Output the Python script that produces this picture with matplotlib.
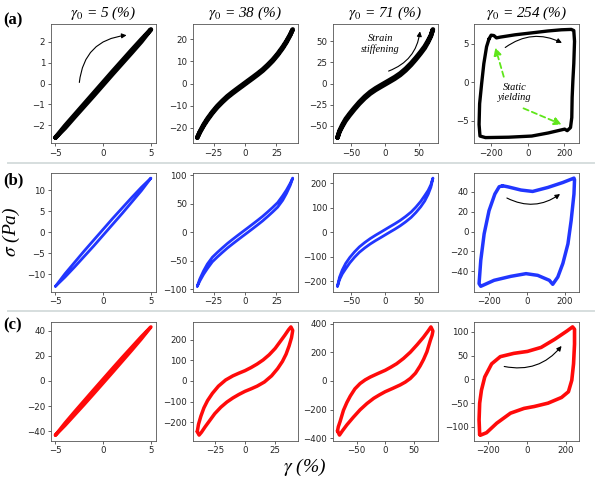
import matplotlib
matplotlib.use("Agg")
import matplotlib.pyplot as plt

# ---------------- data ----------------
titles = ["5", "38", "71", "254"]
row_labels = ["(a)", "(b)", "(c)"]

# Row (a) - black
a1_x = [-5, -4, -3, -2, -1, 0, 1, 2, 3, 4, 5, 4, 3, 2, 1, 0, -1, -2, -3, -4, -5]
a1_y = [-2.58, -2.02, -1.50, -0.98, -0.46, 0.06, 0.58, 1.09, 1.60, 2.10, 2.58,
        2.00, 1.48, 0.97, 0.46, -0.06, -0.58, -1.09, -1.60, -2.12, -2.58]

a2_x = [-38, -36, -33, -30, -26, -22, -18, -14, -10, -6, -2, 2, 6, 10, 14, 18, 22, 26, 30, 33, 36, 38,
        36, 33, 30, 26, 22, 18, 14, 10, 6, 2, -2, -6, -10, -14, -18, -22, -26, -30, -33, -36, -38]
a2_y = [-24.4, -21.8, -18.6, -15.9, -12.8, -10.1, -7.8, -5.7, -3.9, -2.2, -0.54,
        1.14, 2.8, 4.5, 6.3, 8.4, 10.7, 13.4, 16.5, 19.1, 22.1, 24.4,
        21.8, 18.6, 15.9, 12.8, 10.1, 7.8, 5.7, 3.9, 2.2, 0.54,
        -1.14, -2.8, -4.5, -6.3, -8.4, -10.7, -13.4, -16.5, -19.1, -22.1, -24.4]

a3_x = [-70, -67, -63, -58, -52, -45, -38, -30, -22, -14, -6, 6, 14, 22, 30, 38, 45, 52, 58, 63, 67, 70,
        67, 63, 58, 52, 45, 38, 30, 22, 14, 6, -6, -14, -22, -30, -38, -45, -52, -58, -63, -67, -70]
a3_y = [-64, -55.9, -49.1, -42, -35.5, -28.5, -22, -15.5, -10, -5.6, -1.8,
        3.8, 7.6, 12, 17.5, 24, 30.5, 37.5, 44, 50.9, 57.1, 64,
        55.9, 49.1, 42, 35.5, 28.5, 22, 15.5, 10, 5.6, 1.8,
        -3.8, -7.6, -12, -17.5, -24, -30.5, -37.5, -44, -50.9, -57.1, -64]

a4_x = [-212, -200, -185, -171, -150, -69, 22, 112, 184, 238, 252, 256, 252, 247, 243, 241, 234,
        216, 202, 184, 112, 22, -104, -231, -261, -266, -263, -252, -240, -225, -212]
a4_y = [5.6, 6.1, 6.05, 5.75, 5.85, 6.15, 6.4, 6.65, 6.8, 6.85, 6.7, 5.3, 2.4, 0.2, -2.0, -4.6, -5.9,
        -6.3, -6.1, -6.2, -6.6, -7.0, -7.15, -7.2, -7.0, -5.5, -2.8, -0.2, 2.4, 4.6, 5.6]

# Row (b) - blue
b1_x = [-5, -4, -3, -2, -1, 0, 1, 2, 3, 4, 5, 4, 3, 2, 1, 0, -1, -2, -3, -4, -5]
b1_y = [-12.9, -9.9, -7.2, -4.5, -1.9, 0.7, 3.3, 5.8, 8.3, 10.7, 12.9,
        9.9, 7.2, 4.5, 1.9, -0.7, -3.3, -5.8, -8.3, -10.7, -12.9]

b2_x = [-38, -36, -33, -30, -26, -22, -18, -14, -10, -6, -2, 2, 6, 10, 14, 18, 22, 26, 30, 33, 36, 38,
        36, 33, 30, 26, 22, 18, 14, 10, 6, 2, -2, -6, -10, -14, -18, -22, -26, -30, -33, -36, -38]
b2_y = [-95, -82.2, -68, -56, -44, -35.5, -27.5, -19.8, -12.8, -6, 0.7,
        7.3, 14, 20.8, 27.8, 35.5, 43.5, 52, 64, 74, 85.8, 95,
        82.2, 68, 56, 44, 35.5, 27.5, 19.8, 12.8, 6, -0.7,
        -7.3, -14, -20.8, -27.8, -35.5, -43.5, -52, -64, -74, -85.8, -95]

b3_x = [-70, -67, -63, -58, -52, -45, -38, -30, -22, -14, -6, 6, 14, 22, 30, 38, 45, 52, 58, 63, 67, 70,
        67, 63, 58, 52, 45, 38, 30, 22, 14, 6, -6, -14, -22, -30, -38, -45, -52, -58, -63, -67, -70]
b3_y = [-220, -183, -154, -127, -103, -80, -60, -42, -26, -12, 1,
        21, 34, 48, 64, 82, 102, 125, 149, 170, 193, 220,
        183, 154, 127, 103, 80, 60, 42, 26, 12, -1,
        -21, -34, -48, -64, -82, -102, -125, -149, -170, -193, -220]

b4_x = [-130, -103, -32, 30, 111, 191, 250, 253, 250, 235, 218, 191, 164, 137, 119, 57, -5,
        -86, -175, -246, -255, -246, -228, -202, -171, -148, -130]
b4_y = [46, 45, 41.7, 40.3, 44.3, 49.3, 53.7, 52, 37.7, 11, -12.3, -32, -45.7, -53, -49, -44,
        -42.3, -45, -49, -55, -52.3, -29, -2.3, 21, 37.7, 45, 46]

# Row (c) - red
c1_x = [-5, -4, -3, -2, -1, 0, 1, 2, 3, 4, 5, 4, 3, 2, 1, 0, -1, -2, -3, -4, -5]
c1_y = [-42.9, -33.4, -24.5, -15.8, -7.1, 1.5, 10.1, 18.6, 26.9, 35.2, 42.9,
        33.4, 24.5, 15.8, 7.1, -1.5, -10.1, -18.6, -26.9, -35.2, -42.9]

c2_x = [-39.5, -38.5, -36.5, -34, -31, -27, -22, -16, -10, -5, 0, 5, 10, 15, 20, 25, 29, 33, 36, 38,
        39.5, 38.5, 36.5, 34, 31, 27, 22, 16, 10, 5, 0, -5, -10, -15, -20, -25, -29, -33, -36, -38, -39.5]
c2_y = [-245, -210, -170, -130, -95, -60, -25, 5, 25, 38, 50, 65, 82, 102, 127, 158, 190, 222, 248, 262,
        245, 210, 170, 130, 95, 60, 25, -5, -25, -38, -50, -65, -82, -102, -127, -158, -190, -222, -248, -262, -245]

c3_x = [-83.5, -82, -79, -73, -67, -61, -53, -44, -35, -26, -13, 0, 10, 20, 32, 44, 56, 67, 75, 80,
        83.5, 82, 79, 73, 67, 61, 53, 44, 35, 26, 13, 0, -10, -20, -32, -44, -56, -67, -75, -80, -83.5]
c3_y = [-350, -320, -285, -205, -150, -105, -55, -18, 8, 28, 52, 75, 97, 121, 158, 202, 255, 307, 350, 379,
        350, 320, 285, 205, 150, 105, 55, 18, -8, -28, -52, -75, -97, -121, -158, -202, -255, -307, -350, -379, -350]

c4_x = [-240, -243, -240, -231, -214, -179, -135, -66, 3.5, 73, 142, 203, 233, 243,
        243, 238, 229, 212, 177, 108, 38, -14, -83, -153, -205, -235, -240]
c4_y = [-116, -85, -50, -23, 5, 32.5, 47.6, 54.5, 58.6, 67, 84, 101, 110, 105,
        74, 32.5, -2, -26, -38, -50, -57, -61, -71, -92, -112, -117, -116]

xticks = [[-5, 0, 5], [-25, 0, 25], [-50, 0, 50], [-200, 0, 200]]
yticks = [
    [[-2, -1, 0, 1, 2], [-20, -10, 0, 10, 20], [-50, -25, 0, 25, 50], [-5, 0, 5]],
    [[-10, -5, 0, 5, 10], [-100, -50, 0, 50, 100], [-200, -100, 0, 100, 200], [-40, -20, 0, 20, 40]],
    [[-40, -20, 0, 20, 40], [-200, -100, 0, 100, 200], [-400, -200, 0, 200, 400], [-100, -50, 0, 50, 100]],
]

series = [
    [(a1_x, a1_y), (a2_x, a2_y), (a3_x, a3_y), (a4_x, a4_y)],
    [(b1_x, b1_y), (b2_x, b2_y), (b3_x, b3_y), (b4_x, b4_y)],
    [(c1_x, c1_y), (c2_x, c2_y), (c3_x, c3_y), (c4_x, c4_y)],
]
row_colors = ["black", "#2136ff", "#ff0a0a"]
line_widths = [[3.3, 3.3, 3.3, 2.4], [2.0, 2.0, 2.0, 2.5], [2.5, 2.5, 2.5, 2.6]]

# ---------------- figure ----------------
plt.rcParams["mathtext.fontset"] = "stix"
W, H = 602, 480
fig = plt.figure(figsize=(W / 100, H / 100), dpi=100)

col_left = [50.7, 192.5, 332.7, 474.3]
row_top = [24, 172.7, 321.5]
aw, ah = 105, 119

def px_rect(l, t, w, h):
    return [l / W, 1 - (t + h) / H, w / W, h / H]

axes = [[None] * 4 for _ in range(3)]
for r in range(3):
    for c in range(4):
        ax = fig.add_axes(px_rect(col_left[c], row_top[r], aw, ah))
        axes[r][c] = ax
        xs, ys = series[r][c]
        ax.plot(xs, ys, color=row_colors[r], lw=line_widths[r][c],
                solid_joinstyle="round", solid_capstyle="round")
        ax.set_xticks(xticks[c])
        ax.set_yticks(yticks[r][c])
        ax.tick_params(labelsize=6.2, length=2.4, width=0.5, pad=1.6,
                       colors="#222222")
        for sp in ax.spines.values():
            sp.set_linewidth(0.6)
            sp.set_color("#555555")
        if r == 0:
            ax.set_title(r"$\gamma_0$ = " + titles[c] + " (%)", fontsize=11,
                         family="Liberation Serif", style="italic", pad=5)

# separators
for yy in [162.5, 311]:
    fig.add_artist(plt.Line2D([8 / W, 594 / W], [1 - yy / H, 1 - yy / H],
                              color="#d6dede", lw=1.4))

# row labels
for lab, yy in zip(row_labels, [20, 180, 325.7]):
    fig.text(3 / W, 1 - yy / H, lab, fontsize=12, fontweight="bold",
             family="Liberation Serif", ha="left", va="center")

# axis labels
fig.text(11 / W, 1 - 232 / H, r"$\sigma$ (Pa)", fontsize=14, rotation=90,
         family="Liberation Serif", style="italic", ha="center", va="center")
fig.text(305 / W, 1 - 467 / H, r"$\gamma$ (%)", fontsize=14,
         family="Liberation Serif", style="italic", ha="center", va="center")

# annotations
def carrow(ax, start, end, rad, color="black", lw=0.8, ms=7, ls="-"):
    ax.annotate("", xy=end, xytext=start,
                arrowprops=dict(arrowstyle="-|>", connectionstyle="arc3,rad=%s" % rad,
                                color=color, lw=lw, mutation_scale=ms,
                                linestyle=ls, shrinkA=0, shrinkB=0))

carrow(axes[0][0], (-2.5, 0.05), (2.45, 2.3), -0.4)
carrow(axes[0][2], (5, 14.7), (51, 61.7), 0.3)
axes[0][2].text(-7, 46.5, "Strain\nstiffening", fontsize=7.5, family="Liberation Serif",
                style="italic", ha="center", va="center", linespacing=1.1)
carrow(axes[0][3], (-123, 4.5), (187, 5.1), -0.3)
green = "#5fe61a"
carrow(axes[0][3], (-131, 0.7), (-177, 4.5), 0.0, color=green, lw=1.3, ms=11, ls=(0, (3, 2)))
carrow(axes[0][3], (-23, -3.4), (186, -5.5), 0.0, color=green, lw=1.3, ms=11, ls=(0, (3, 2)))
axes[0][3].text(-72, -1.3, "Static\nyielding", fontsize=7.5, family="Liberation Serif",
                style="italic", ha="center", va="center", linespacing=1.1)
carrow(axes[1][3], (-107, 33.7), (176, 37.7), 0.3)
carrow(axes[2][3], (-115, 27), (177, 70), 0.3)

fig.savefig("out.png", dpi=100, facecolor="white")
